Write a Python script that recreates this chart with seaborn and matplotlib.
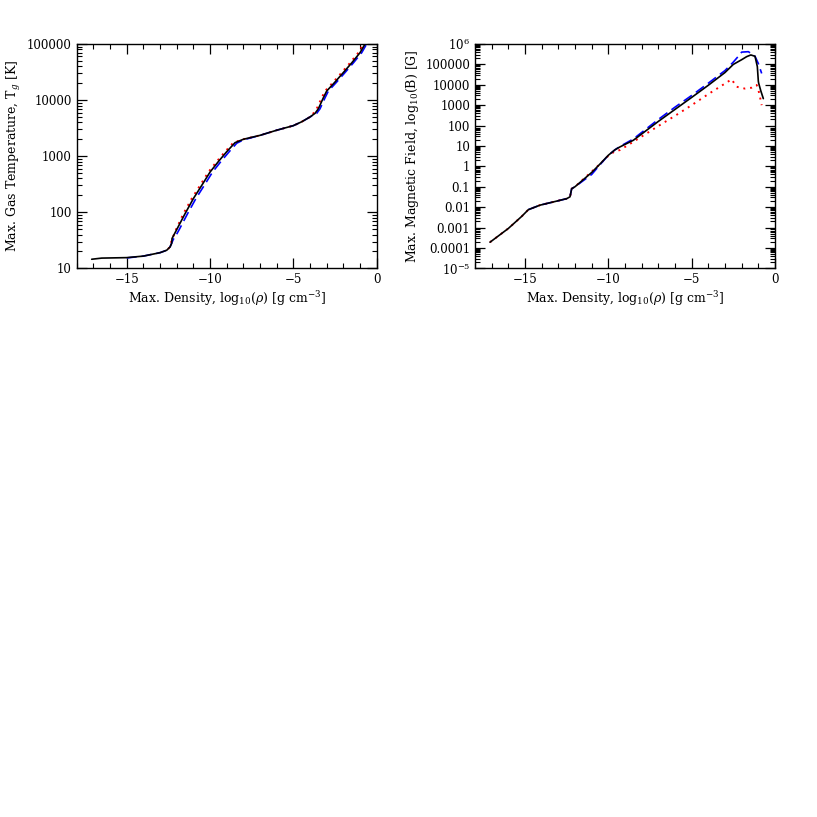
import numpy as np
import pandas as pd
import matplotlib
matplotlib.use("Agg")
import matplotlib.pyplot as plt
import seaborn as sns
from matplotlib.ticker import LogLocator, MultipleLocator, NullFormatter

sns.set_style("ticks")
plt.rcParams['font.family'] = ['DejaVu Serif']
plt.rcParams['mathtext.fontset'] = 'dejavuserif'
plt.rcParams['font.size'] = 8
plt.rcParams['text.color'] = 'black'
plt.rcParams['axes.labelcolor'] = 'black'
plt.rcParams['xtick.color'] = 'black'
plt.rcParams['ytick.color'] = 'black'

# %% datos: temperatura del gas
rho_T_black = [-17.1, -16.5, -16, -15, -14, -13, -12.6, -12.4, -12.3, -12.28, -12, -11.5, -11, -10.5,
               -10, -9.5, -9, -8.5, -8, -7, -6, -5, -4.5, -4, -3.7, -3.5, -3.2, -3, -2.5, -2, -1.5, -1, -0.7]
T_black = [14.5, 15.2, 15.3, 15.5, 16.5, 19, 21, 24, 28, 34, 49, 94, 175, 300,
           520, 800, 1200, 1740, 2000, 2350, 2900, 3500, 4100, 5000, 5800, 7000, 11000, 14500, 21000, 31000, 46000, 70000, 100000]

rho_T_red = [-12.5, -12.4, -12.1, -11.6, -11.1, -10.6, -10.1, -9.6, -9.1, -8.6, -8, -7, -6, -5, -4.5,
             -4, -3.8, -3.6, -3.3, -3.1, -2.6, -2.1, -1.6, -1.1, -0.8]
T_red = [22, 26, 45, 94, 175, 300, 520, 800, 1200, 1740, 2000, 2350, 2900, 3500, 4100,
         5000, 5800, 7000, 11000, 14500, 21000, 31000, 46000, 70000, 100000]

rho_T_blue = [-15, -14, -13, -12.6, -12.4, -12.2, -12.1, -11.85, -11.35, -10.85, -10.35, -9.85, -9.35, -8.85, -8.4,
              -8, -7, -6, -5, -4.5, -4, -3.6, -3.4, -3.1, -2.9, -2.4, -1.9, -1.4, -0.9, -0.6]
T_blue = [15.3, 16.5, 19, 21, 24, 33, 36, 49, 94, 175, 300, 520, 800, 1200, 1700,
          1950, 2350, 2900, 3500, 4100, 5000, 5800, 7000, 11000, 14500, 21000, 31000, 46000, 70000, 100000]

# %% datos: campo magnetico
rho_B_black = [-17.1, -16, -15.2, -14.8, -14.1, -13.3, -12.5, -12.3, -12.2, -12, -11, -10.5, -10, -9.6, -9.3, -8.5,
               -7, -6, -5, -4, -3, -2.5, -2, -1.7, -1.45, -1.2, -1.06, -1.0, -0.98, -0.85, -0.7]
B_black = [1.9e-4, 9e-4, 3.5e-3, 7.5e-3, 0.0125, 0.018, 0.026, 0.032, 0.08, 0.1, 0.5, 1.3, 3.5, 6.5, 9, 19,
           160, 620, 2400, 9500, 40000, 100000, 170000, 240000, 290000, 250000, 78000, 15000, 12000, 5000, 2100]

rho_B_red = [-17.1, -16, -15.2, -14.8, -14.1, -13.3, -12.5, -12.3, -12.2, -12, -11, -10.5, -10, -9.6, -9.3, -8.5,
             -7, -6, -5, -4, -3, -2.6, -2.45, -2.3, -2, -1.8, -1.4, -1.1, -0.95, -0.8]
B_red = [1.9e-4, 9e-4, 3.5e-3, 7.5e-3, 0.0125, 0.018, 0.026, 0.032, 0.08, 0.1, 0.55, 1.3, 3.3, 5.5, 6.3, 16,
         95, 300, 1000, 3500, 11500, 18600, 12000, 8000, 7000, 6500, 7200, 9800, 4000, 1000]

rho_B_blue = [-14.8, -14.1, -13.3, -12.5, -12.3, -12.2, -12, -11, -10.5, -10, -9.6, -9.3, -8.5,
              -7, -6, -5, -4, -3, -2.5, -2.2, -2.0, -1.6, -1.4, -1.2, -1.0, -0.8]
B_blue = [7.5e-3, 0.0125, 0.018, 0.026, 0.032, 0.08, 0.1, 0.4, 1.2, 3.5, 6.5, 9.5, 22,
          200, 800, 3000, 12000, 50000, 130000, 250000, 400000, 420000, 330000, 250000, 110000, 36000]

yt_T = [10, 100, 1000, 10000, 100000]
yl_T = ['10', '100', '1000', '10000', '100000']
yt_B = [1e-5, 1e-4, 1e-3, 1e-2, 1e-1, 1, 10, 100, 1000, 1e4, 1e5, 1e6]
yl_B = ['$10^{-5}$', '0.0001', '0.001', '0.01', '0.1', '1', '10', '100', '1000', '10000', '100000', '$10^{6}$']

xlabel = r'Max. Density, log$_{10}$($\rho$) [g cm$^{-3}$]'

fig = plt.figure(figsize=(8.17, 8.17), dpi=100)
ax1 = fig.add_axes([76.7 / 817, 1 - 268.3 / 817, 300 / 817, 224.3 / 817])
ax2 = fig.add_axes([475 / 817, 1 - 268.3 / 817, 300 / 817, 224.3 / 817])


def draw(ax, series):
    for x, y, col, ls, lw in series:
        d = pd.DataFrame({'x': x, 'y': y})
        sns.lineplot(data=d, x='x', y='y', ax=ax, color=col, linestyle=ls, linewidth=lw,
                     sort=False, estimator=None)


draw(ax1, [(rho_T_red, T_red, 'red', (0, (1, 2.5)), 1.4),
           (rho_T_blue, T_blue, 'blue', (0, (6, 3)), 1.2),
           (rho_T_black, T_black, 'black', '-', 1.2)])
draw(ax2, [(rho_B_red, B_red, 'red', (0, (1, 2.5)), 1.4),
           (rho_B_blue, B_blue, 'blue', (0, (6, 3)), 1.2),
           (rho_B_black, B_black, 'black', '-', 1.2)])

for ax, yt, yl, ylim, lab in [(ax1, yt_T, yl_T, (10, 1e5), r'Max. Gas Temperature, T$_g$ [K]'),
                              (ax2, yt_B, yl_B, (1e-5, 1e6), r'Max. Magnetic Field, log$_{10}$(B) [G]')]:
    ax.set_yscale('log')
    ax.set_xlim(-18, 0)
    ax.set_ylim(*ylim)
    ax.set_yticks(yt)
    ax.set_yticklabels(yl)
    ax.yaxis.set_minor_locator(LogLocator(base=10, subs=np.arange(2, 10), numticks=30))
    ax.yaxis.set_minor_formatter(NullFormatter())
    ax.set_xticks([-15, -10, -5, 0])
    ax.set_xticklabels(['\u221215', '\u221210', '\u22125', '0'])
    ax.xaxis.set_minor_locator(MultipleLocator(1))
    ax.tick_params(which='both', direction='in', top=True, right=True, colors='black', labelsize=8.5)
    ax.tick_params(which='major', length=7, width=0.9)
    ax.tick_params(which='minor', length=3.5, width=0.8)
    for s in ax.spines.values():
        s.set_linewidth(1.0)
        s.set_color('black')
    ax.set_xlabel(xlabel, fontsize=9, labelpad=2, color='black')
    ax.set_ylabel(lab, fontsize=9, labelpad=3, color='black')

fig.savefig('out.png', dpi=100, facecolor='white')
